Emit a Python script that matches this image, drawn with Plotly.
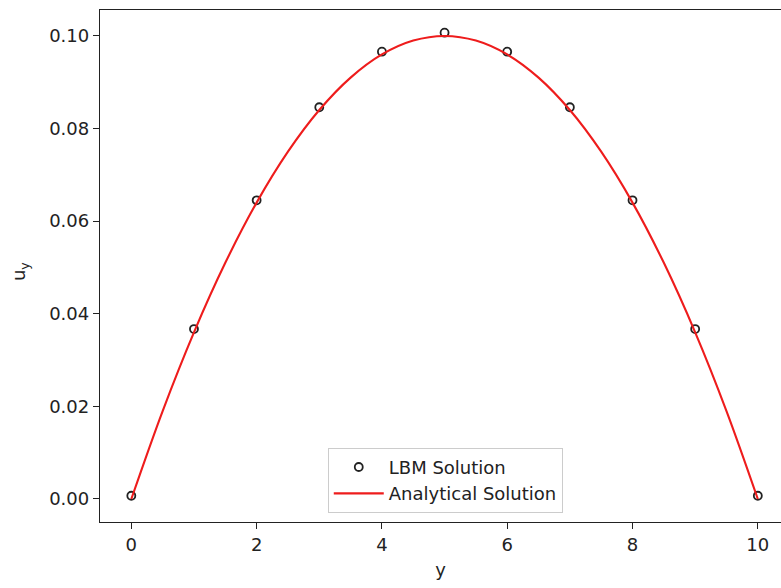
import plotly.graph_objects as go

# LBM solution samples
y_lbm = [0, 1, 2, 3, 4, 5, 6, 7, 8, 9, 10]
u_lbm = [0.0007, 0.0367, 0.0645, 0.0846, 0.0966, 0.1007, 0.0966, 0.0846, 0.0645, 0.0367, 0.0007]

# Analytical solution
y_ana = [0, 0.5, 1, 1.5, 2, 2.5, 3, 3.5, 4, 4.5, 5, 5.5, 6, 6.5, 7, 7.5, 8, 8.5, 9, 9.5, 10]
u_ana = [0.0, 0.019, 0.036, 0.051, 0.064, 0.075, 0.084, 0.091, 0.096, 0.099, 0.100,
         0.099, 0.096, 0.091, 0.084, 0.075, 0.064, 0.051, 0.036, 0.019, 0.0]

x_ticks = [0, 2, 4, 6, 8, 10]
y_ticks = [0.00, 0.02, 0.04, 0.06, 0.08, 0.10]

font = "DejaVu Sans"
fs = 18

fig = go.Figure()
fig.add_trace(go.Scatter(
    x=y_lbm, y=u_lbm, mode="markers", name="LBM Solution",
    marker=dict(symbol="circle-open", size=8, color="#222222", line=dict(width=1.8)),
))
fig.add_trace(go.Scatter(
    x=y_ana, y=u_ana, mode="lines", name="Analytical Solution",
    line=dict(color="#ee1c1c", width=2.1, shape="spline", smoothing=1.0),
))

fig.update_layout(
    width=781, height=588,
    margin=dict(l=100, r=0, t=10, b=66),
    paper_bgcolor="white", plot_bgcolor="white",
    font=dict(family=font, size=fs, color="#222222"),
    showlegend=True,
    legend=dict(
        x=0.507, y=0.018, xanchor="center", yanchor="bottom",
        bgcolor="rgba(255,255,255,0.8)", bordercolor="#cccccc", borderwidth=1,
        font=dict(family=font, size=fs, color="#222222"),
        tracegroupgap=0, itemwidth=50,
    ),
    xaxis=dict(
        range=[-0.5, 10.37], tickvals=x_ticks, ticktext=[str(v) for v in x_ticks],
        showgrid=False, zeroline=False, showline=True, linecolor="#222222", linewidth=1.3,
        mirror=True, ticks="outside", ticklen=6, tickcolor="#222222", automargin=False,
        title=dict(text="y", standoff=9, font=dict(size=fs)),
    ),
    yaxis=dict(
        range=[-0.00497, 0.1056], tickvals=y_ticks, ticktext=[f"{v:.2f}" for v in y_ticks],
        showgrid=False, zeroline=False, showline=True, linecolor="#222222", linewidth=1.3,
        mirror=False, ticks="outside", ticklen=6, tickcolor="#222222", automargin=False,
    ),
    annotations=[dict(
        text="u<sub>y</sub>", textangle=-90, showarrow=False,
        xref="paper", yref="paper", x=-0.1175, y=0.49,
        xanchor="center", yanchor="middle", font=dict(family=font, size=fs, color="#222222"),
    )],
)

fig.write_html("out.html", config={"displayModeBar": False},
               post_script="document.body.style.margin='0';document.body.style.overflow='hidden';")
